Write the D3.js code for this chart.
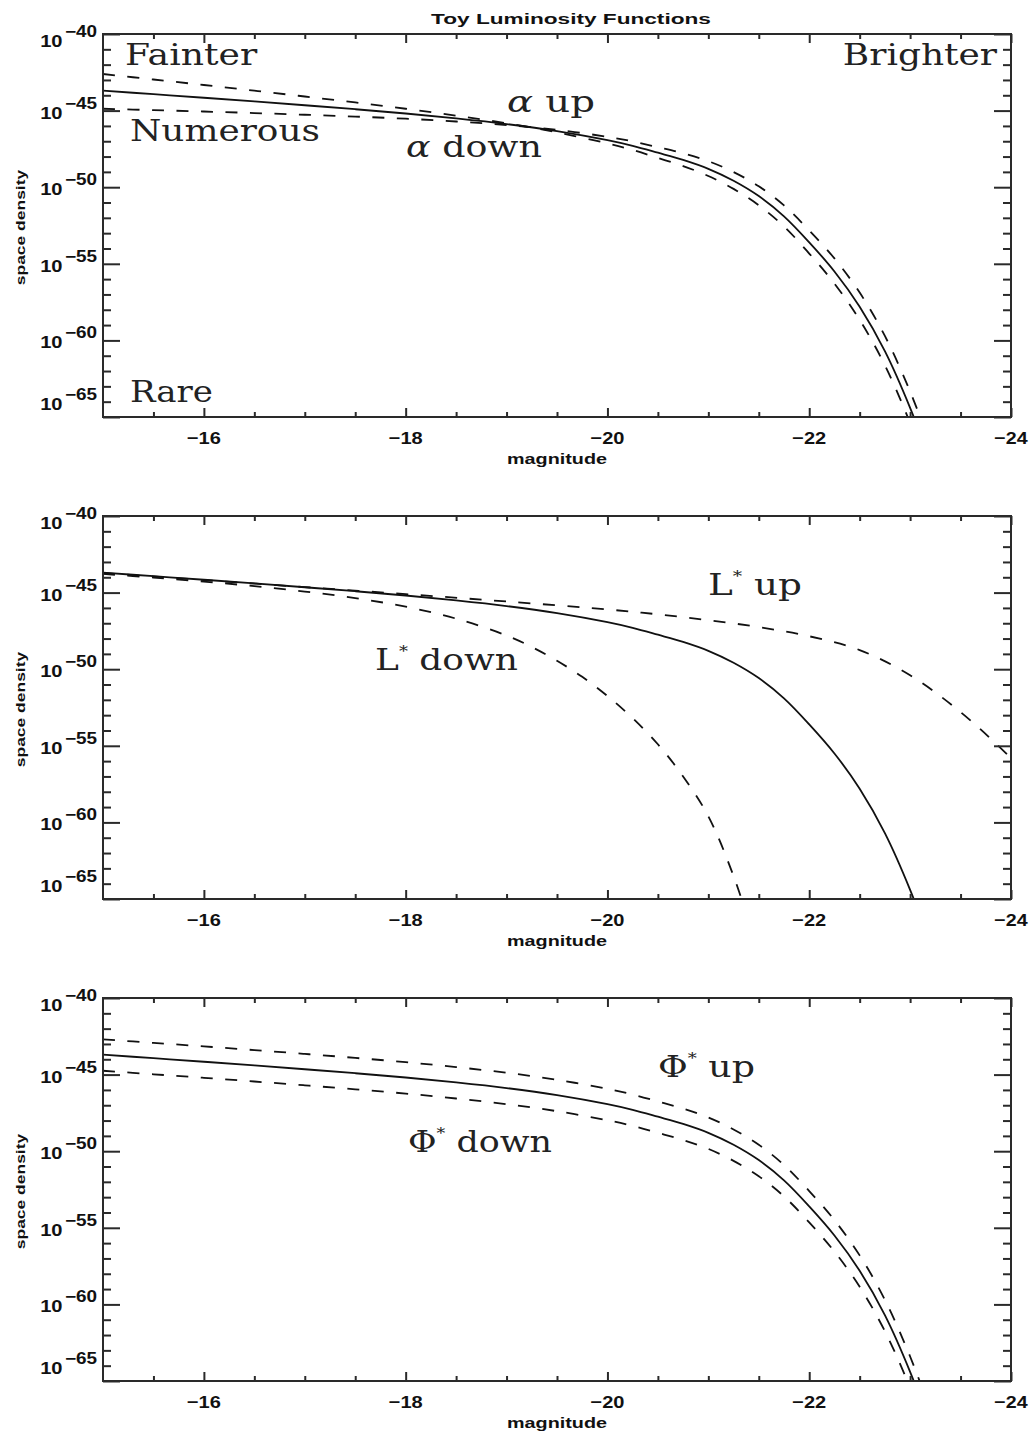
<!DOCTYPE html>
<html>
<head>
<meta charset="utf-8">
<script src="https://cdn.jsdelivr.net/npm/d3@7"></script>
<style>
  html, body { margin: 0; padding: 0; background: #fff; }
  svg { display: block; }
</style>
</head>
<body>
<script>
// ---- data: log10(space density) against absolute magnitude ----
const magGrid = [-15, -15.5, -16, -16.5, -17, -17.5, -18, -18.5, -19, -19.5, -20, -20.25,
                 -20.5, -20.75, -21, -21.25, -21.5, -21.75, -22, -22.25, -22.5, -22.75, -23, -23.25];

// reference luminosity function (solid curve in every panel)
const baseLF = [-43.70, -43.93, -44.16, -44.40, -44.65, -44.91, -45.19, -45.51, -45.88, -46.34,
                -46.93, -47.30, -47.75, -48.22, -48.80, -49.58, -50.58, -51.90, -53.60, -55.50,
                -57.80, -60.70, -64.40, -68.80];

// faint-end slope varied
const alphaSteep = [-42.61, -42.97, -43.33, -43.70, -44.08, -44.47, -44.88, -45.33, -45.83, -46.42,
                    -47.14, -47.57, -48.09, -48.62, -49.27, -50.11, -51.18, -52.56, -54.33, -56.29,
                    -58.66, -61.62, -65.39, -69.85];
const alphaShallow = [-44.88, -44.97, -45.06, -45.16, -45.27, -45.39, -45.53, -45.71, -45.94, -46.26,
                      -46.71, -47.01, -47.39, -47.79, -48.30, -49.01, -49.94, -51.19, -52.82, -54.65,
                      -56.88, -59.71, -63.34, -67.67];

// characteristic luminosity varied
const lstarUpMag = [-15, -16, -17, -18, -19, -20, -20.5, -21, -21.5, -22, -22.5, -23, -23.5, -24, -24.25];
const lstarUp    = [-43.72, -44.18, -44.64, -45.10, -45.58, -46.10, -46.42, -46.80, -47.25, -47.85,
                    -48.75, -50.40, -52.80, -55.80, -57.50];
const lstarDownMag = [-15, -15.5, -16, -16.5, -17, -17.5, -18, -18.5, -19, -19.25, -19.5, -19.75,
                      -20, -20.25, -20.5, -20.75, -21, -21.25, -21.5];
const lstarDown    = [-43.78, -44.02, -44.28, -44.58, -44.93, -45.36, -45.92, -46.70, -47.80, -48.55,
                      -49.45, -50.50, -51.75, -53.20, -54.90, -57.00, -59.60, -63.50, -68.50];

// normalisation varied
const phiUp   = [-42.70, -42.93, -43.16, -43.40, -43.65, -43.91, -44.19, -44.51, -44.88, -45.34,
                 -45.93, -46.30, -46.75, -47.22, -47.80, -48.58, -49.58, -50.90, -52.60, -54.50,
                 -56.80, -59.70, -63.40, -67.80];
const phiDown = [-44.75, -44.98, -45.21, -45.45, -45.70, -45.96, -46.24, -46.56, -46.93, -47.39,
                 -47.98, -48.35, -48.80, -49.27, -49.85, -50.63, -51.63, -52.95, -54.65, -56.55,
                 -58.85, -61.75, -65.45, -69.85];

// axes
const xMajorTicks = [-16, -18, -20, -22, -24];
const xMinorTicks = [-15.5, -16.5, -17, -17.5, -18.5, -19, -19.5, -20.5, -21, -21.5, -22.5, -23, -23.5];
const yMajorExp = [-40, -45, -50, -55, -60, -65];
const yMinorExp = d3.range(-64, -40).filter(e => e % 5 !== 0);

const title = "Toy Luminosity Functions";
const xTitle = "magnitude";
const yTitle = "space density";

const panels = [
  { curves: [
      { mag: magGrid, val: baseLF, dashed: false },
      { mag: magGrid, val: alphaSteep, dashed: true },
      { mag: magGrid, val: alphaShallow, dashed: true }],
    notes: [
      { parts: [["Fainter"]], x: 125, y: 65, w: 133, anchor: "start" },
      { parts: [["Brighter"]], x: 997, y: 65, w: 155, anchor: "end" },
      { parts: [["Numerous"]], x: 130, y: 141, w: 190, anchor: "start" },
      { parts: [["Rare"]], x: 130, y: 402, w: 83, anchor: "start" },
      { parts: [["α", "italic"], [" up"]], x: 507, y: 112, w: 88, anchor: "start" },
      { parts: [["α", "italic"], [" down"]], x: 406, y: 157, w: 136, anchor: "start" }] },
  { curves: [
      { mag: magGrid, val: baseLF, dashed: false },
      { mag: lstarUpMag, val: lstarUp, dashed: true },
      { mag: lstarDownMag, val: lstarDown, dashed: true }],
    notes: [
      { parts: [["L"], ["*", "sup"], [" up"]], x: 708, y: 595, w: 94, anchor: "start" },
      { parts: [["L"], ["*", "sup"], [" down"]], x: 375, y: 670, w: 143, anchor: "start" }] },
  { curves: [
      { mag: magGrid, val: baseLF, dashed: false },
      { mag: magGrid, val: phiUp, dashed: true },
      { mag: magGrid, val: phiDown, dashed: true }],
    notes: [
      { parts: [["Φ"], ["*", "sup"], [" up"]], x: 658, y: 1077, w: 97, anchor: "start" },
      { parts: [["Φ"], ["*", "sup"], [" down"]], x: 408, y: 1152, w: 144, anchor: "start" }] }
];

// ---- layout ----
const W = 1032, H = 1437;
const left = 103, right = 1011, plotH = 383;
const panelTops = [34, 516, 998];
const axisColor = "#2a2a2a";
const labelFont = "'Liberation Sans', Arial, Helvetica, sans-serif";
const noteFont = "'DejaVu Serif', 'Liberation Serif', serif";

const svg = d3.select("body").append("svg").attr("width", W).attr("height", H);

// place a text at (x, y) and stretch it horizontally to a target width
function wideText(parent, x, y, target, rotate) {
  const g = parent.append("g")
    .attr("transform", `translate(${x},${y})` + (rotate ? ` rotate(${rotate})` : ""));
  const t = g.append("text").attr("x", 0).attr("y", 0);
  t.fit = () => {
    const w = t.node().getBBox().width;
    if (w > 0) t.attr("transform", `scale(${target / w},1)`);
    return t;
  };
  return t;
}

wideText(svg, 571, 24, 280)
  .attr("text-anchor", "middle")
  .attr("font-family", labelFont).attr("font-weight", "bold").attr("font-size", 15)
  .attr("fill", "#111")
  .text(title)
  .fit();

panels.forEach((p, i) => {
  const top = panelTops[i], bottom = top + plotH;
  const x = d3.scaleLinear().domain([-15, -24]).range([left, right]);
  const y = d3.scaleLog().domain([1e-65, 1e-40]).range([bottom, top]);
  const g = svg.append("g");

  const clipId = "clip" + i;
  g.append("clipPath").attr("id", clipId)
    .append("rect").attr("x", left).attr("y", top).attr("width", right - left).attr("height", plotH);

  // curves
  const line = d3.line()
    .x(d => x(d[0]))
    .y(d => y(Math.pow(10, d[1])))
    .curve(d3.curveCatmullRom.alpha(0.5));
  p.curves.forEach(c => {
    g.append("path")
      .attr("clip-path", `url(#${clipId})`)
      .attr("d", line(c.mag.map((m, k) => [m, c.val[k]])))
      .attr("fill", "none")
      .attr("stroke", "#111")
      .attr("stroke-width", 1.8)
      .attr("stroke-dasharray", c.dashed ? "12,12.5" : null);
  });

  // axes: ticks point inward on all four sides
  const styleAxis = sel => {
    sel.select(".domain").remove();
    sel.selectAll("line").attr("stroke", axisColor).attr("stroke-width", 2);
    sel.selectAll("text").remove();
  };
  g.append("g").attr("transform", `translate(0,${bottom})`)
    .call(d3.axisBottom(x).tickValues(xMajorTicks).tickSize(-9).tickSizeOuter(0)).call(styleAxis);
  g.append("g").attr("transform", `translate(0,${bottom})`)
    .call(d3.axisBottom(x).tickValues(xMinorTicks).tickSize(-5).tickSizeOuter(0)).call(styleAxis);
  g.append("g").attr("transform", `translate(0,${top})`)
    .call(d3.axisTop(x).tickValues(xMajorTicks).tickSize(-9).tickSizeOuter(0)).call(styleAxis);
  g.append("g").attr("transform", `translate(0,${top})`)
    .call(d3.axisTop(x).tickValues(xMinorTicks).tickSize(-5).tickSizeOuter(0)).call(styleAxis);

  const majors = yMajorExp.map(e => Math.pow(10, e));
  const minors = yMinorExp.map(e => Math.pow(10, e));
  g.append("g").attr("transform", `translate(${left},0)`)
    .call(d3.axisLeft(y).tickValues(majors).tickSize(-17).tickSizeOuter(0)).call(styleAxis);
  g.append("g").attr("transform", `translate(${left},0)`)
    .call(d3.axisLeft(y).tickValues(minors).tickSize(-8).tickSizeOuter(0)).call(styleAxis);
  g.append("g").attr("transform", `translate(${right},0)`)
    .call(d3.axisRight(y).tickValues(majors).tickSize(-17).tickSizeOuter(0)).call(styleAxis);
  g.append("g").attr("transform", `translate(${right},0)`)
    .call(d3.axisRight(y).tickValues(minors).tickSize(-8).tickSizeOuter(0)).call(styleAxis);

  // frame
  g.append("rect")
    .attr("x", left).attr("y", top).attr("width", right - left).attr("height", plotH)
    .attr("fill", "none").attr("stroke", axisColor).attr("stroke-width", 2);

  // x tick labels
  xMajorTicks.forEach(t => {
    wideText(g, x(t), bottom + 27, 34)
      .attr("text-anchor", "middle")
      .attr("font-family", labelFont).attr("font-weight", "bold").attr("font-size", 17)
      .attr("fill", "#111")
      .text("−" + Math.abs(t))
      .fit();
  });

  // y tick labels: 10 with superscript exponent
  yMajorExp.forEach(e => {
    const yy = y(Math.pow(10, e));
    const off = e === -40 ? 13 : (e === -65 ? -7 : 8);
    const t = wideText(g, 97, yy + off, 57)
      .attr("text-anchor", "end")
      .attr("font-family", labelFont).attr("font-weight", "bold").attr("fill", "#111");
    t.append("tspan").attr("font-size", 17).text("10");
    t.append("tspan").attr("font-size", 16).attr("dy", -10).attr("dx", 2).text("−" + Math.abs(e));
    t.fit();
  });

  // axis titles
  wideText(g, (left + right) / 2, bottom + 47, 100)
    .attr("text-anchor", "middle")
    .attr("font-family", labelFont).attr("font-weight", "bold").attr("font-size", 15)
    .attr("fill", "#111")
    .text(xTitle)
    .fit();
  wideText(g, 25, (top + bottom) / 2 + 2, 116, -90)
    .attr("text-anchor", "middle")
    .attr("font-family", labelFont).attr("font-weight", "bold").attr("font-size", 12)
    .attr("fill", "#111")
    .text(yTitle)
    .fit();

  // annotations
  p.notes.forEach(n => {
    const t = wideText(g, n.x, n.y, n.w)
      .attr("text-anchor", n.anchor)
      .attr("font-family", noteFont).attr("font-size", 30)
      .attr("fill", "#222");
    n.parts.forEach(([s, kind]) => {
      const ts = t.append("tspan").text(s);
      if (kind === "italic") ts.attr("font-style", "italic");
      if (kind === "sup") ts.attr("font-size", 15).attr("baseline-shift", "95%");
    });
    t.fit();
  });
});
</script>
</body>
</html>
